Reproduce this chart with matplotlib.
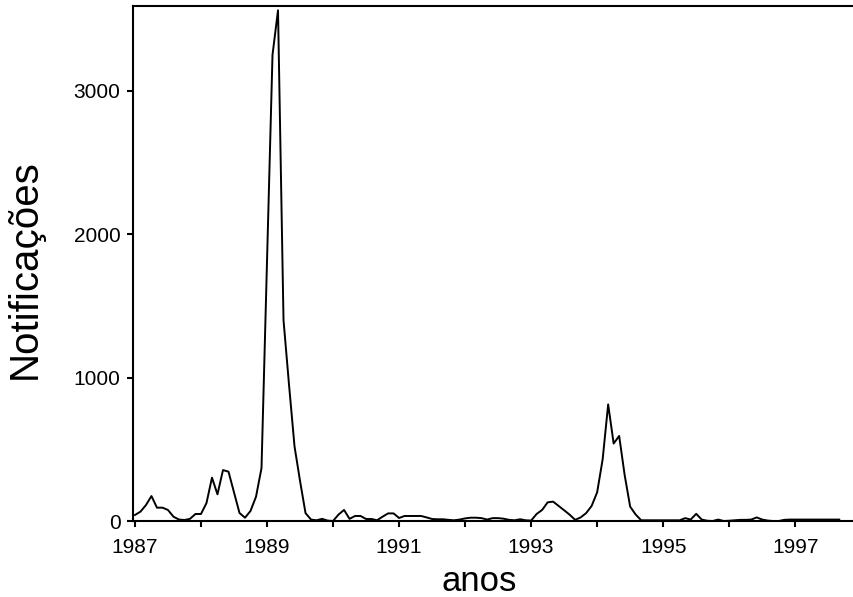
import matplotlib
matplotlib.use('Agg')
import matplotlib.pyplot as plt
import numpy as np

# monthly notifications, Jan 1987 onwards
start_year = 1987
notificacoes = [42, 65, 111, 174, 93, 93, 77, 30, 10, 7, 15, 49,          # 1987
                49, 125, 302, 186, 355, 344, 200, 56, 23, 70, 169, 369,   # 1988
                1810, 3250, 3560, 1400, 950, 520, 280, 55, 10, 5, 15, 3,  # 1989
                0, 45, 77, 15, 35, 35, 14, 14, 5, 30, 53, 53,             # 1990
                21, 35, 35, 35, 35, 25, 14, 12, 12, 8, 5, 10,             # 1991
                18, 23, 23, 20, 10, 20, 20, 16, 8, 5, 12, 5,              # 1992
                3, 49, 77, 130, 135, 105, 75, 44, 8, 25, 55, 105,         # 1993
                200, 430, 813, 540, 593, 320, 100, 45, 5, 5, 5, 5,        # 1994
                5, 5, 5, 5, 20, 10, 50, 10, 2, 0, 10, 0,                  # 1995
                2, 5, 8, 8, 10, 25, 10, 3, 0, 0, 8, 10,                   # 1996
                10, 10, 10, 10, 10, 10, 10, 10, 10]                       # 1997
year_ticks = list(range(1987, 1998))
year_labels = [str(y) if (y - 1987) % 2 == 0 else '' for y in year_ticks]
y_ticks = [0, 1000, 2000, 3000]

plt.rcParams['font.family'] = ['Liberation Sans', 'DejaVu Sans']

t = start_year + np.arange(len(notificacoes)) / 12.0

fig = plt.figure(figsize=(8.54, 5.97), dpi=100)
ax = fig.add_axes([0.1557, 0.1273, 0.8443, 0.8626])
ax.plot(t, notificacoes, color='black', linewidth=1.4)

ax.set_xlim(1986.97, 1997.89)
ax.set_ylim(0, 3590)
ax.set_xticks(year_ticks)
ax.set_xticklabels(year_labels)
ax.set_yticks(y_ticks)
ax.tick_params(direction='out', length=4, width=1.5, labelsize=15)
ax.tick_params(axis='x', pad=8)
ax.tick_params(axis='y', pad=5)

for side in ['left', 'bottom', 'top']:
    ax.spines[side].set_linewidth(1.5)
ax.spines['right'].set_visible(False)

ax.set_xlabel('anos', fontsize=25)
ax.set_ylabel('Notificações', fontsize=29)
ax.xaxis.set_label_coords(0.48, -0.085)
ax.yaxis.set_label_coords(-0.124, 0.49)

fig.savefig('out.png', dpi=100)
